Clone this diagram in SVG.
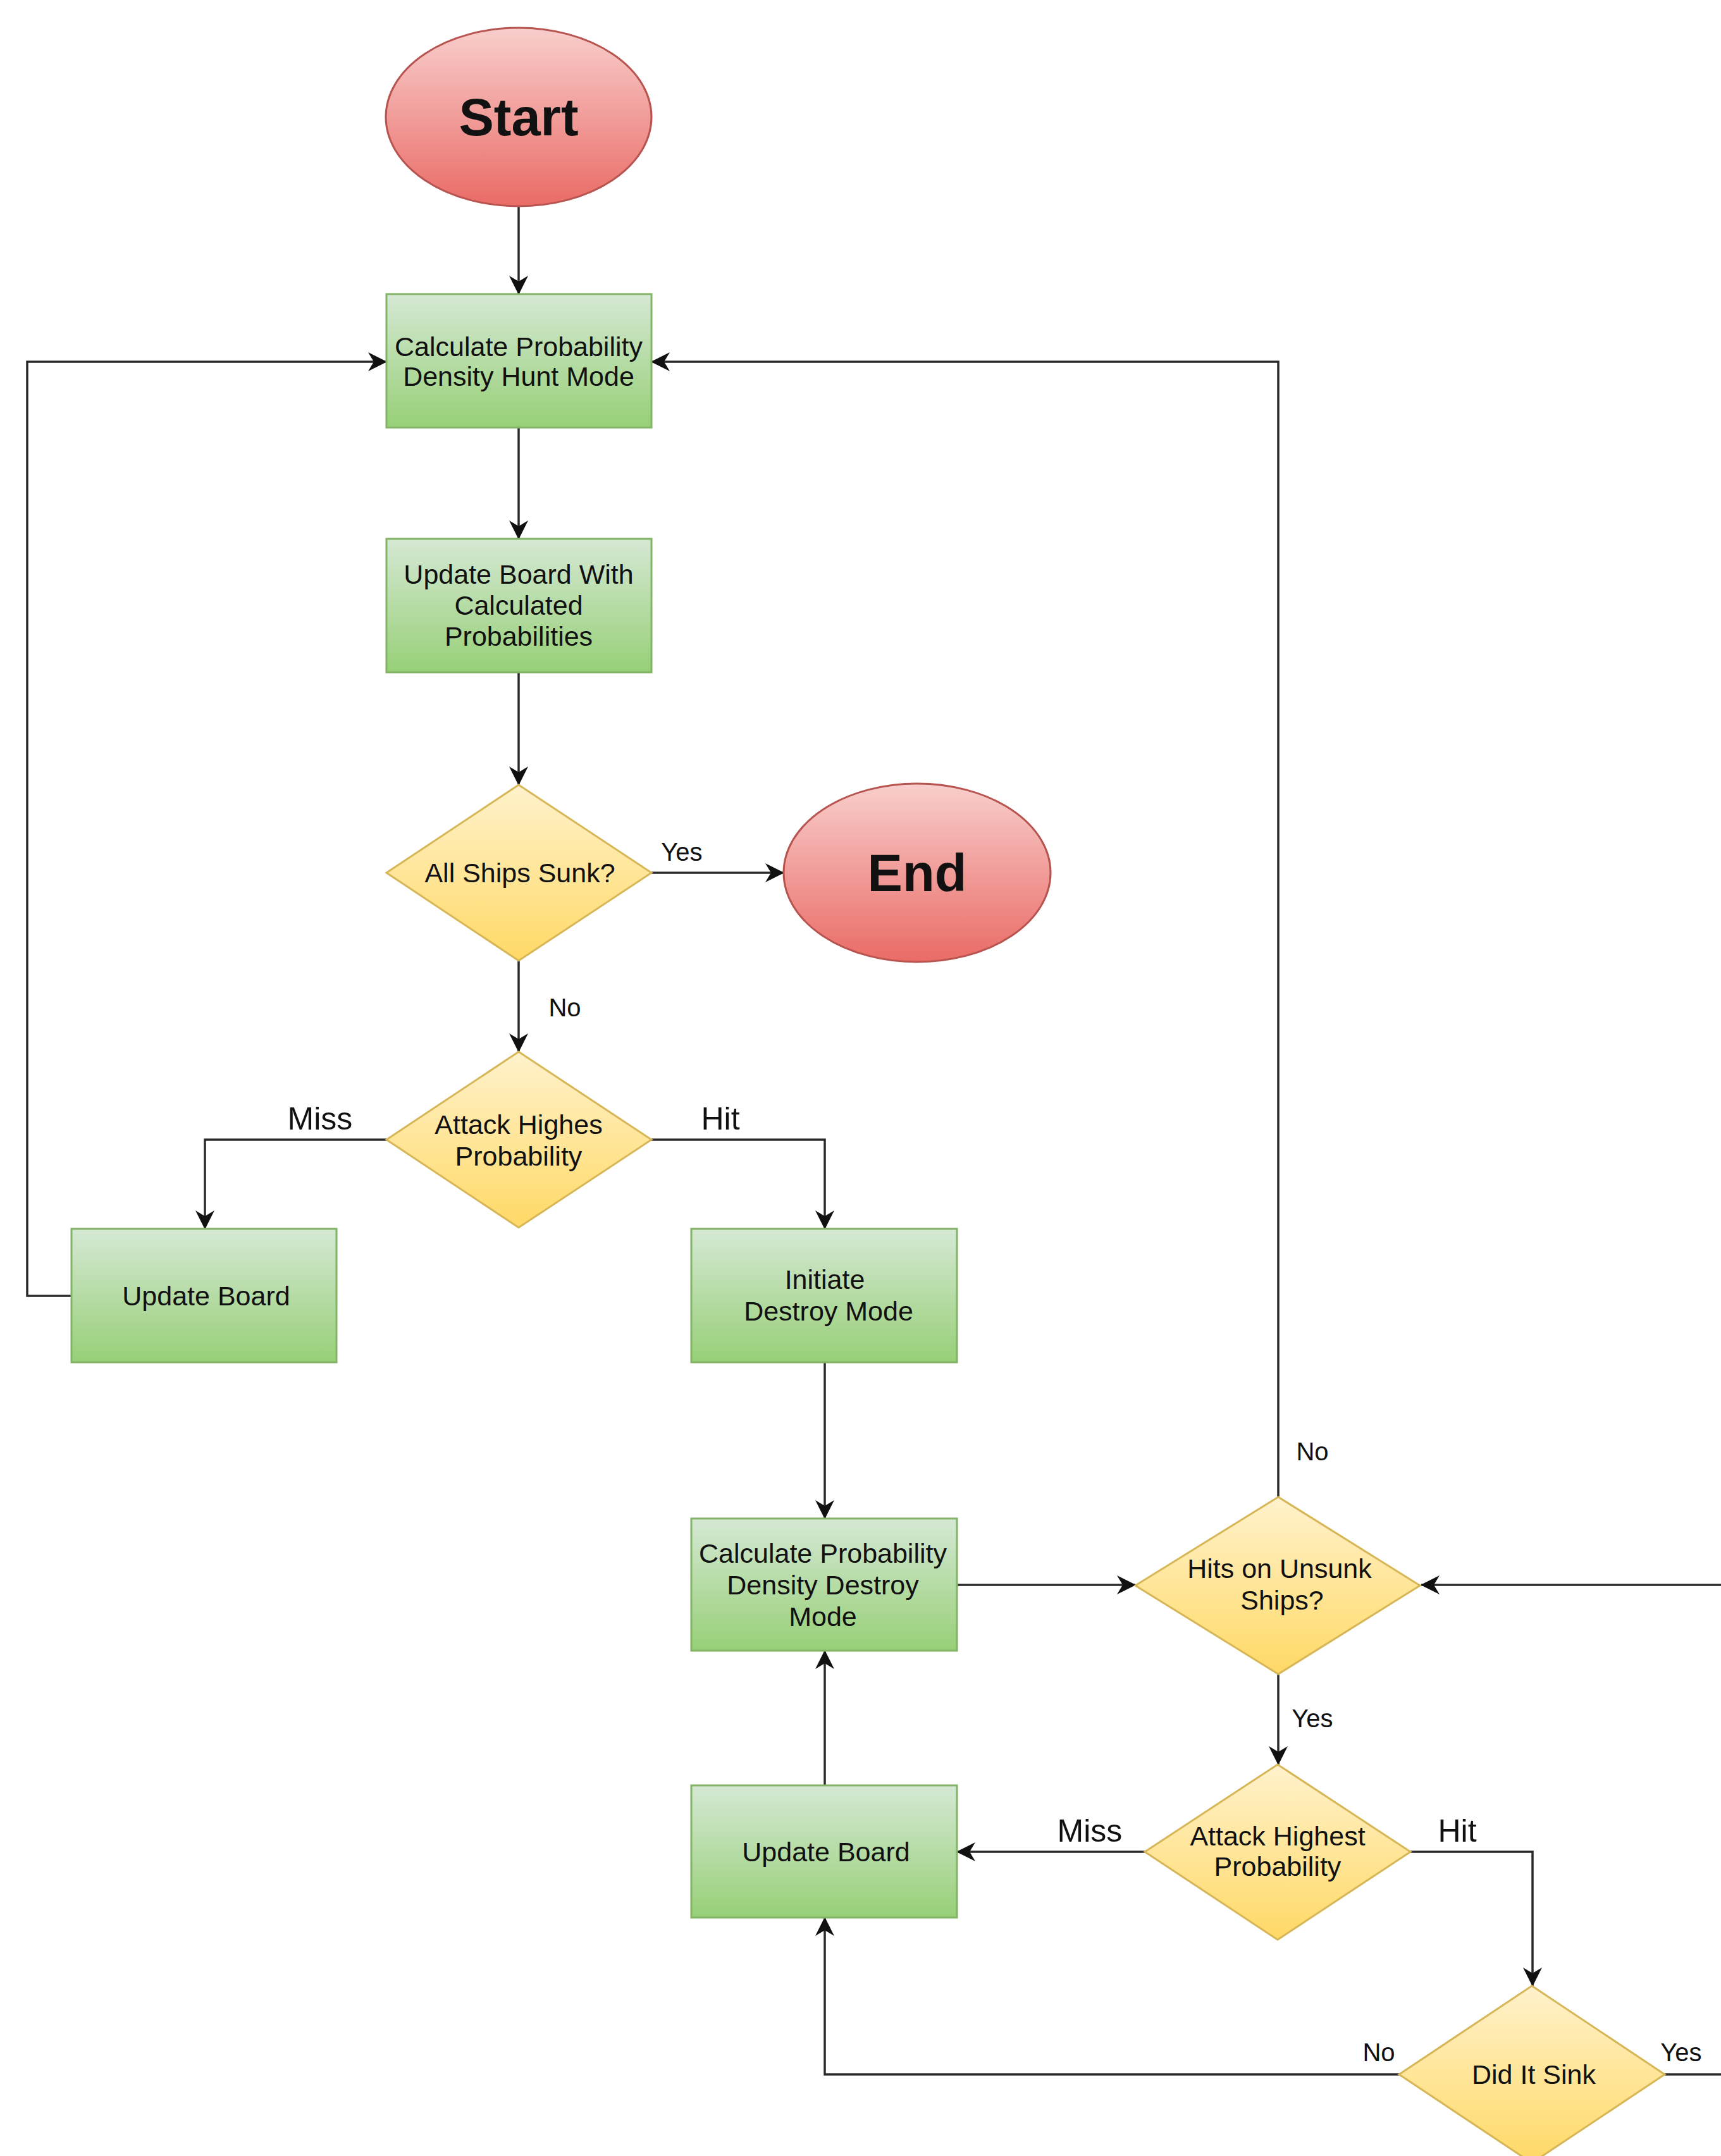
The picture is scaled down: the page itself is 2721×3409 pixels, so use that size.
<svg xmlns="http://www.w3.org/2000/svg" width="2721" height="3409" viewBox="0 0 2721 3409">
<defs>
<linearGradient id="gRed" x1="0" y1="0" x2="0" y2="1"><stop offset="0" stop-color="#f8cecc"/><stop offset="1" stop-color="#ea6b66"/></linearGradient>
<linearGradient id="gGreen" x1="0" y1="0" x2="0" y2="1"><stop offset="0" stop-color="#d5e8d4"/><stop offset="1" stop-color="#97d077"/></linearGradient>
<linearGradient id="gYellow" x1="0" y1="0" x2="0" y2="1"><stop offset="0" stop-color="#fff2cc"/><stop offset="1" stop-color="#ffd966"/></linearGradient>
<marker id="arr" markerUnits="userSpaceOnUse" markerWidth="30" markerHeight="30" viewBox="0 0 30 30" refX="29" refY="15" orient="auto">
<path d="M0,0 L30,15 L0,30 L9,15 Z" fill="#111"/>
</marker>
</defs>
<style>
.term{fill:url(#gRed);stroke:#b85450;stroke-width:3}
.proc{fill:url(#gGreen);stroke:#82b366;stroke-width:3}
.dec{fill:url(#gYellow);stroke:#d6b656;stroke-width:3}
text{font-family:"Liberation Sans",Arial,sans-serif;fill:#111;text-anchor:middle}
.t{font-size:43px}
.big{font-size:83px;font-weight:bold}
.lbl{font-size:40px}
.lbl2{font-size:50px}
.c{fill:none;stroke:#2a2a2a;stroke-width:3.5;marker-end:url(#arr)}
.cn{fill:none;stroke:#2a2a2a;stroke-width:3.5}
</style>
<rect width="2721" height="3409" fill="#fff"/>

<g id="connectors">
<path class="c" d="M820,326 V465"/>
<path class="c" d="M820,676 V852"/>
<path class="c" d="M820,1063 V1241"/>
<path class="c" d="M1030,1380 H1239"/>
<path class="c" d="M820,1519 V1663"/>
<path class="c" d="M611,1802 H324 V1943"/>
<path class="c" d="M1030,1802 H1304 V1943"/>
<path class="c" d="M113,2049 H43 V572 H611"/>
<path class="c" d="M1304,2154 V2401"/>
<path class="c" d="M1513,2506 H1795"/>
<path class="c" d="M2021,2367 V572 H1030"/>
<path class="c" d="M2721,2506 H2247"/>
<path class="c" d="M2021,2647 V2790"/>
<path class="c" d="M1810,2928 H1513"/>
<path class="c" d="M1304,2823 V2610"/>
<path class="c" d="M2230,2928 H2423 V3140"/>
<path class="c" d="M2212,3280 H1304 V3032"/>
<path class="cn" d="M2632,3280 H2721"/>
<text class="lbl" x="1078" y="1361">Yes</text>
<text class="lbl" x="893" y="1607">No</text>
<text class="lbl2" x="506" y="1786">Miss</text>
<text class="lbl2" x="1139" y="1786">Hit</text>
<text class="lbl" x="2075" y="2309">No</text>
<text class="lbl" x="2075" y="2731">Yes</text>
<text class="lbl2" x="1723" y="2912">Miss</text>
<text class="lbl2" x="2304" y="2912">Hit</text>
<text class="lbl" x="2180" y="3259">No</text>
<text class="lbl" x="2658" y="3259">Yes</text>
</g>

<g id="start">
<ellipse class="term" cx="820" cy="185" rx="210" ry="141"/>
<text class="big" x="820" y="214">Start</text>
</g>
<g id="calc-hunt">
<rect class="proc" x="611" y="465" width="419" height="211"/>
<text class="t" x="820" y="563">Calculate Probability</text>
<text class="t" x="820" y="610">Density Hunt Mode</text>
</g>
<g id="update-with">
<rect class="proc" x="611" y="852" width="419" height="211"/>
<text class="t" x="820" y="923">Update Board With</text>
<text class="t" x="820" y="972">Calculated</text>
<text class="t" x="820" y="1021">Probabilities</text>
</g>
<g id="all-sunk">
<polygon class="dec" points="820,1241 1030,1380 820,1519 611,1380"/>
<text class="t" x="822" y="1395">All Ships Sunk?</text>
</g>
<g id="end">
<ellipse class="term" cx="1450" cy="1380" rx="211" ry="141"/>
<text class="big" x="1450" y="1409">End</text>
</g>
<g id="attack-hunt">
<polygon class="dec" points="820,1663 1030,1802 820,1941 611,1802"/>
<text class="t" x="820" y="1793">Attack Highes</text>
<text class="t" x="820" y="1843">Probability</text>
</g>
<g id="update-left">
<rect class="proc" x="113" y="1943" width="419" height="211"/>
<text class="t" x="326" y="2064">Update Board</text>
</g>
<g id="initiate">
<rect class="proc" x="1093" y="1943" width="420" height="211"/>
<text class="t" x="1304" y="2038">Initiate</text>
<text class="t" x="1310" y="2088">Destroy Mode</text>
</g>
<g id="calc-destroy">
<rect class="proc" x="1093" y="2401" width="420" height="209"/>
<text class="t" x="1301" y="2471">Calculate Probability</text>
<text class="t" x="1301" y="2521">Density Destroy</text>
<text class="t" x="1301" y="2571">Mode</text>
</g>
<g id="hits-unsunk">
<polygon class="dec" points="2021,2367 2245,2507 2021,2647 1795,2507"/>
<text class="t" x="2023" y="2495">Hits on Unsunk</text>
<text class="t" x="2027" y="2545">Ships?</text>
</g>
<g id="attack-destroy">
<polygon class="dec" points="2020,2790 2230,2928 2020,3067 1810,2928"/>
<text class="t" x="2020" y="2918">Attack Highest</text>
<text class="t" x="2020" y="2966">Probability</text>
</g>
<g id="update-right">
<rect class="proc" x="1093" y="2823" width="420" height="209"/>
<text class="t" x="1306" y="2943">Update Board</text>
</g>
<g id="did-it-sink">
<polygon class="dec" points="2422,3140 2632,3280 2422,3420 2212,3280"/>
<text class="t" x="2425" y="3295">Did It Sink</text>
</g>
</svg>
